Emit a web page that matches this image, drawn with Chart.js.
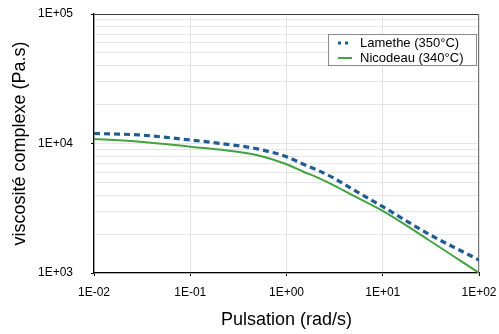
<!DOCTYPE html>
<html>
<head>
<meta charset="utf-8">
<script src="https://cdn.jsdelivr.net/npm/chart.js@4/dist/chart.umd.min.js"></script>
<style>
html,body{margin:0;padding:0;background:#fff;}
#wrap{width:499px;height:334px;position:relative;}
</style>
</head>
<body>
<div id="wrap"><canvas id="c" width="499" height="334"></canvas></div>
<script>
const pulsation = [0.01, 0.03, 0.1, 0.2, 0.5, 1, 1.5, 2, 3, 5, 10, 30, 100];
const lamethe = [11950, 11630, 10640, 10035, 9085, 7910, 6910, 6330, 5480, 4375, 3250, 2000, 1260];
const nicodeau = [10830, 10325, 9445, 8990, 8110, 6910, 6055, 5550, 4815, 3933, 3012, 1798, 1000];
const seriesLabels = ['Lamethe (350°C)', 'Nicodeau (340°C)'];
const xTickValues = [0.01, 0.1, 1, 10, 100];
const xTickLabels = ['1E-02', '1E-01', '1E+00', '1E+01', '1E+02'];
const yTickValues = [1000, 10000, 100000];
const yTickLabels = ['1E+03', '1E+04', '1E+05'];

const FONT = "'Liberation Sans', Arial, Helvetica, sans-serif";

function pts(ys){ return pulsation.map((x,i)=>({x:x, y:ys[i]})); }

const isMajorY = v => yTickValues.some(t => Math.abs(t - v) / t < 1e-6);

function noPad(scale){
  scale.paddingLeft = 0; scale.paddingRight = 0; scale.paddingTop = 0; scale.paddingBottom = 0;
}

const frameAndLegend = {
  id: 'frameAndLegend',
  beforeDatasetsDraw(chart){
    const {ctx, chartArea:a} = chart;
    ctx.save();
    ctx.lineWidth = 1;
    ctx.strokeStyle = '#3a3a3a';
    ctx.beginPath(); ctx.moveTo(a.left, a.top + 0.5); ctx.lineTo(a.right, a.top + 0.5); ctx.stroke();
    ctx.strokeStyle = '#777';
    ctx.beginPath(); ctx.moveTo(a.right - 0.5, a.top); ctx.lineTo(a.right - 0.5, a.bottom); ctx.stroke();
    ctx.restore();
  },
  afterDatasetsDraw(chart){
    const {ctx} = chart;
    const bx = 328.5, by = 34.5, bw = 148, bh = 31;
    ctx.save();
    ctx.fillStyle = '#fff';
    ctx.fillRect(bx, by, bw, bh);
    ctx.strokeStyle = '#8a8a8a';
    ctx.lineWidth = 1;
    ctx.strokeRect(bx, by, bw, bh);
    ctx.font = '13px ' + FONT;
    ctx.fillStyle = '#000';
    ctx.textBaseline = 'middle';
    ctx.textAlign = 'left';
    chart.data.datasets.forEach((ds, i) => {
      const y = 43 + i * 15;
      ctx.strokeStyle = ds.borderColor;
      ctx.lineWidth = ds.borderWidth;
      ctx.setLineDash(i === 0 ? [3, 4] : []);
      ctx.beginPath(); ctx.moveTo(338, y); ctx.lineTo(352, y); ctx.stroke();
      ctx.setLineDash([]);
      ctx.fillText(ds.label, 360, y + 0.5);
    });
    ctx.restore();
  }
};

new Chart(document.getElementById('c'), {
  type: 'line',
  data: {
    datasets: [
      { label: seriesLabels[0], data: pts(lamethe), borderColor: '#1f5b95', borderWidth: 3.2,
        borderDash: [6, 4], pointRadius: 0, cubicInterpolationMode: 'monotone', fill: false },
      { label: seriesLabels[1], data: pts(nicodeau), borderColor: '#43a23f', borderWidth: 2,
        pointRadius: 0, cubicInterpolationMode: 'monotone', fill: false }
    ]
  },
  options: {
    responsive: false,
    animation: false,
    events: [],
    layout: { padding: { top: 14, right: 20, left: 0, bottom: 0 } },
    plugins: { legend: { display: false }, tooltip: { enabled: false } },
    scales: {
      x: {
        type: 'logarithmic', min: 0.01, max: 100, position: 'bottom',
        afterBuildTicks(scale){ scale.ticks = xTickValues.map(v => ({value: v})); },
        afterFit(scale){ scale.height = 61; noPad(scale); },
        ticks: {
          autoSkip: false, maxRotation: 0, padding: 9, color: '#000',
          font: { family: FONT, size: 12 },
          callback(v){ const i = xTickValues.findIndex(t => Math.abs(t - v) / t < 1e-6); return i >= 0 ? xTickLabels[i] : ''; }
        },
        grid: { color: '#e2e2e2', lineWidth: 1, tickLength: 3, tickColor: '#000', drawTicks: true },
        border: { display: true, color: '#000', width: 1.3 },
        title: { display: true, text: 'Pulsation (rad/s)', color: '#000',
                 font: { family: FONT, size: 18 }, padding: { top: 0, bottom: 3 } }
      },
      y: {
        type: 'logarithmic', min: 1000, max: 100000, position: 'left',
        afterBuildTicks(scale){
          const t = [];
          for (let e = 3; e <= 4; e++) for (let m = 1; m <= 9; m++) t.push({value: m * Math.pow(10, e)});
          t.push({value: 100000});
          scale.ticks = t;
        },
        afterFit(scale){ scale.width = 94; noPad(scale); },
        ticks: {
          autoSkip: false, padding: 18, color: '#000',
          font: { family: FONT, size: 12 },
          callback(v){ const i = yTickValues.findIndex(t => Math.abs(t - v) / t < 1e-6); return i >= 0 ? yTickLabels[i] : ''; }
        },
        grid: { color: '#e6e6e6', lineWidth: 1, tickLength: 3,
                tickColor: ctx => (ctx.tick && isMajorY(ctx.tick.value)) ? '#000' : 'rgba(0,0,0,0)' },
        border: { display: true, color: '#000', width: 1.3 },
        title: { display: true, text: 'viscosité complexe (Pa.s)', color: '#000',
                 font: { family: FONT, size: 18 }, padding: { top: 9, bottom: 0 } }
      }
    }
  },
  plugins: [frameAndLegend]
});
</script>
</body>
</html>
